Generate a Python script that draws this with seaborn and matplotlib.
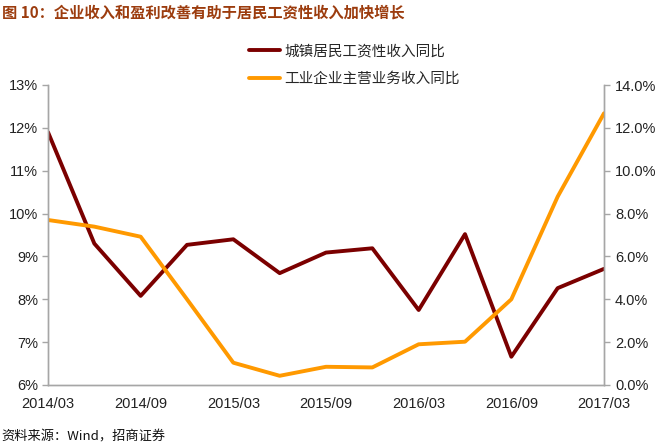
import matplotlib
matplotlib.use("Agg")
import matplotlib.pyplot as plt
import matplotlib.ticker as mticker
import seaborn as sns
import pandas as pd
import numpy as np

quarters = ["2014/03", "2014/06", "2014/09", "2014/12", "2015/03", "2015/06", "2015/09",
            "2015/12", "2016/03", "2016/06", "2016/09", "2016/12", "2017/03"]
wage_income = [11.9, 9.3, 8.08, 9.27, 9.4, 8.61, 9.09, 9.19, 7.75, 9.52, 6.66, 8.26, 8.71]
industrial_revenue = [7.7, 7.39, 6.92, 4.0, 1.04, 0.43, 0.85, 0.82, 1.9, 2.02, 4.0, 8.79, 12.68]
xtick_labels = ["2014/03", "2014/09", "2015/03", "2015/09", "2016/03", "2016/09", "2017/03"]

name_wage = "城镇居民工资性收入同比"
name_ind = "工业企业主营业务收入同比"

sns.set_theme(style="white")
plt.rcParams["font.family"] = ["Liberation Sans", "Noto Sans CJK SC", "DejaVu Sans"]

df = pd.DataFrame({"idx": np.arange(len(quarters)), "q": quarters,
                   "wage": wage_income, "ind": industrial_revenue})

fig = plt.figure(figsize=(6.69, 4.46), dpi=100)
ax = fig.add_axes([48/669, 1-385/446, (604-48)/669, 300/446])
ax2 = ax.twinx()

dark = "#7B0000"
orange = "#FF9900"
sns.lineplot(data=df, x="idx", y="wage", ax=ax, color=dark, linewidth=2.8, label=name_wage, legend=False)
sns.lineplot(data=df, x="idx", y="ind", ax=ax2, color=orange, linewidth=2.8, label=name_ind, legend=False)

ax.set_xlim(0, len(quarters)-1)
ax.set_ylim(6, 13)
ax2.set_ylim(0, 14)
ax.set_yticks(np.arange(6, 14, 1))
ax2.set_yticks(np.arange(0, 15, 2))
ax.yaxis.set_major_formatter(mticker.FuncFormatter(lambda v, p: f"{v:.0f}%"))
ax2.yaxis.set_major_formatter(mticker.FuncFormatter(lambda v, p: f"{v:.1f}%"))
tick_pos = [quarters.index(t) for t in xtick_labels]
ax.set_xticks(tick_pos)
ax.set_xticklabels(xtick_labels)
ax.set_xlabel("")
ax.set_ylabel("")
ax2.set_ylabel("")

spine_c = "#A6A6A6"
for a in (ax, ax2):
    for s in a.spines.values():
        s.set_color(spine_c)
        s.set_linewidth(1.0)
    a.spines["top"].set_visible(False)
    a.tick_params(colors="#222222", labelsize=10.5, length=4, width=1.0, color=spine_c, direction="out")
    a.grid(False)
ax.tick_params(axis="y", pad=3)
ax2.tick_params(axis="y", pad=4)
ax.tick_params(axis="x", pad=5)
ax.patch.set_visible(False)

handles = ax.get_lines()[:1] + ax2.get_lines()[:1]
fig.legend(handles, [name_wage, name_ind], loc="upper left", bbox_to_anchor=(236/669, 1-31/446),
           frameon=False, handlelength=2.1, handletextpad=0.3, labelspacing=0.95,
           prop={"family": ["Noto Sans CJK SC"], "size": 10.5})

fig.text(2/669, 1-13/446, "图 10：企业收入和盈利改善有助于居民工资性收入加快增长", fontsize=11,
         fontweight="bold", color="#9C3C0E", va="center", ha="left",
         family=["Noto Sans CJK SC", "DejaVu Sans"])
fig.text(1/669, 1-437/446, "资料来源：Wind，招商证券", fontsize=9.5, color="#111111",
         va="center", ha="left", family=["Noto Sans CJK SC", "DejaVu Sans"])

fig.savefig("out.png", dpi=100)
